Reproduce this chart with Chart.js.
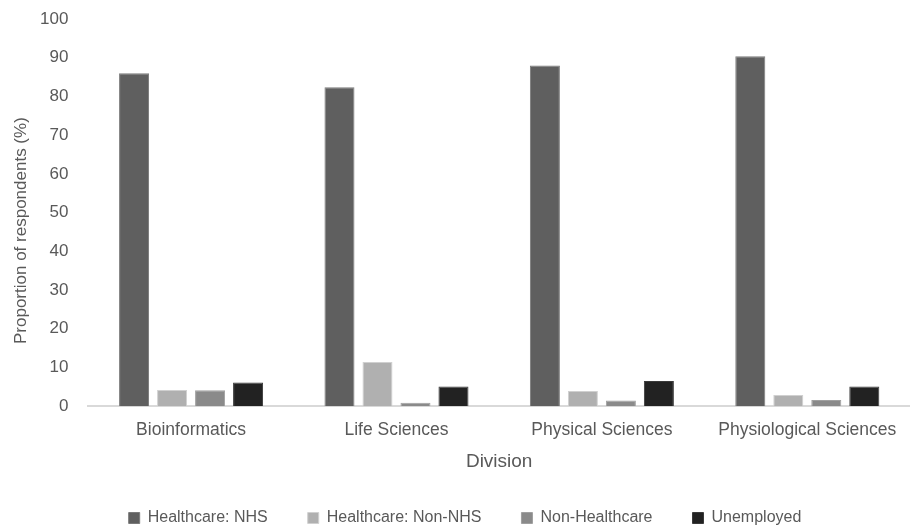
<!DOCTYPE html>
<html>
<head>
<meta charset="utf-8">
<script src="https://cdn.jsdelivr.net/npm/chart.js@4"></script>
<style>
html,body{margin:0;padding:0;background:#fff;}
#wrap{width:910px;height:528px;position:relative;}
</style>
</head>
<body>
<div id="wrap"><canvas id="c"></canvas></div>
<script>
const categories = ["Bioinformatics", "Life Sciences", "Physical Sciences", "Physiological Sciences"];
const seriesNames = ["Healthcare: NHS", "Healthcare: Non-NHS", "Non-Healthcare", "Unemployed"];
const nhs = [86.0, 82.4, 88.0, 90.4];
const nonNhs = [4.2, 11.4, 3.9, 2.9];
const nonHealthcare = [4.1, 0.9, 1.5, 1.6];
const unemployed = [6.1, 5.1, 6.5, 5.1];
const yTicks = [0, 10, 20, 30, 40, 50, 60, 70, 80, 90, 100];

const colors = ["#5f5f5f", "#b0b0b0", "#8a8a8a", "#222222"];
const borders = ["#7a7a7a", "#d0d0d0", "#a0a0a0", "#3a3a3a"];
const values = [nhs, nonNhs, nonHealthcare, unemployed];

const font = "'Liberation Sans', 'Open Sans', sans-serif";
const textColor = "#595959";

// Layout tweaks: compact legend height, plot top, title offset, legend offset
const layoutTweaks = {
  id: "layoutTweaks",
  beforeUpdate(chart) {
    const lg = chart.legend;
    if (lg && !lg._patched) {
      const orig = lg.fit;
      lg.fit = function () {
        orig.call(this);
        this.height = 58;
      };
      lg._patched = true;
    }
  },
  afterLayout(chart) {
    const y = chart.scales.y;
    const t = 19;
    y.top = t;
    y.height = y.bottom - t;
    chart.chartArea.top = t;
    chart.chartArea.height = chart.chartArea.bottom - t;
    y.configure();
    if (!y._titlePatched) {
      const od = y.drawTitle;
      y.drawTitle = function () {
        const tt = this.top;
        this.top = tt + 36;
        od.call(this);
        this.top = tt;
      };
      y._titlePatched = true;
    }
    if (chart.legend) {
      chart.legend.left += 20;
    }
  }
};

new Chart(document.getElementById("c"), {
  type: "bar",
  data: {
    labels: categories,
    datasets: seriesNames.map((n, i) => ({
      label: n,
      data: values[i],
      backgroundColor: colors[i],
      borderColor: borders[i],
      borderWidth: 1,
      borderSkipped: "bottom",
      categoryPercentage: 0.74,
      barPercentage: 0.79
    }))
  },
  plugins: [layoutTweaks],
  options: {
    responsive: true,
    maintainAspectRatio: false,
    animation: false,
    layout: { padding: { left: 0, right: 0, top: 0, bottom: 0 } },
    plugins: {
      tooltip: { enabled: false },
      legend: {
        position: "bottom",
        labels: {
          color: textColor,
          font: { family: font, size: 16 },
          boxWidth: 11,
          boxHeight: 11,
          padding: 40
        }
      }
    },
    scales: {
      x: {
        grid: { display: false, drawTicks: false },
        border: { display: true, color: "#d9d9d9", width: 2 },
        ticks: { color: textColor, font: { family: font, size: 17.5 }, padding: 13.5 },
        title: { display: true, text: "Division", color: textColor, font: { family: font, size: 19 }, padding: { top: -3.6, bottom: -3.4 } }
      },
      y: {
        min: 0,
        max: 100,
        afterBuildTicks: (axis) => { axis.ticks = yTicks.map(v => ({ value: v })); },
        grid: { display: false, drawTicks: false },
        border: { display: false },
        ticks: { color: textColor, font: { family: font, size: 17 }, padding: 20 },
        title: { display: true, text: "Proportion of respondents (%)", color: textColor, font: { family: font, size: 17 }, padding: { top: 10.8, bottom: -11.2 } }
      }
    }
  }
});
</script>
</body>
</html>
